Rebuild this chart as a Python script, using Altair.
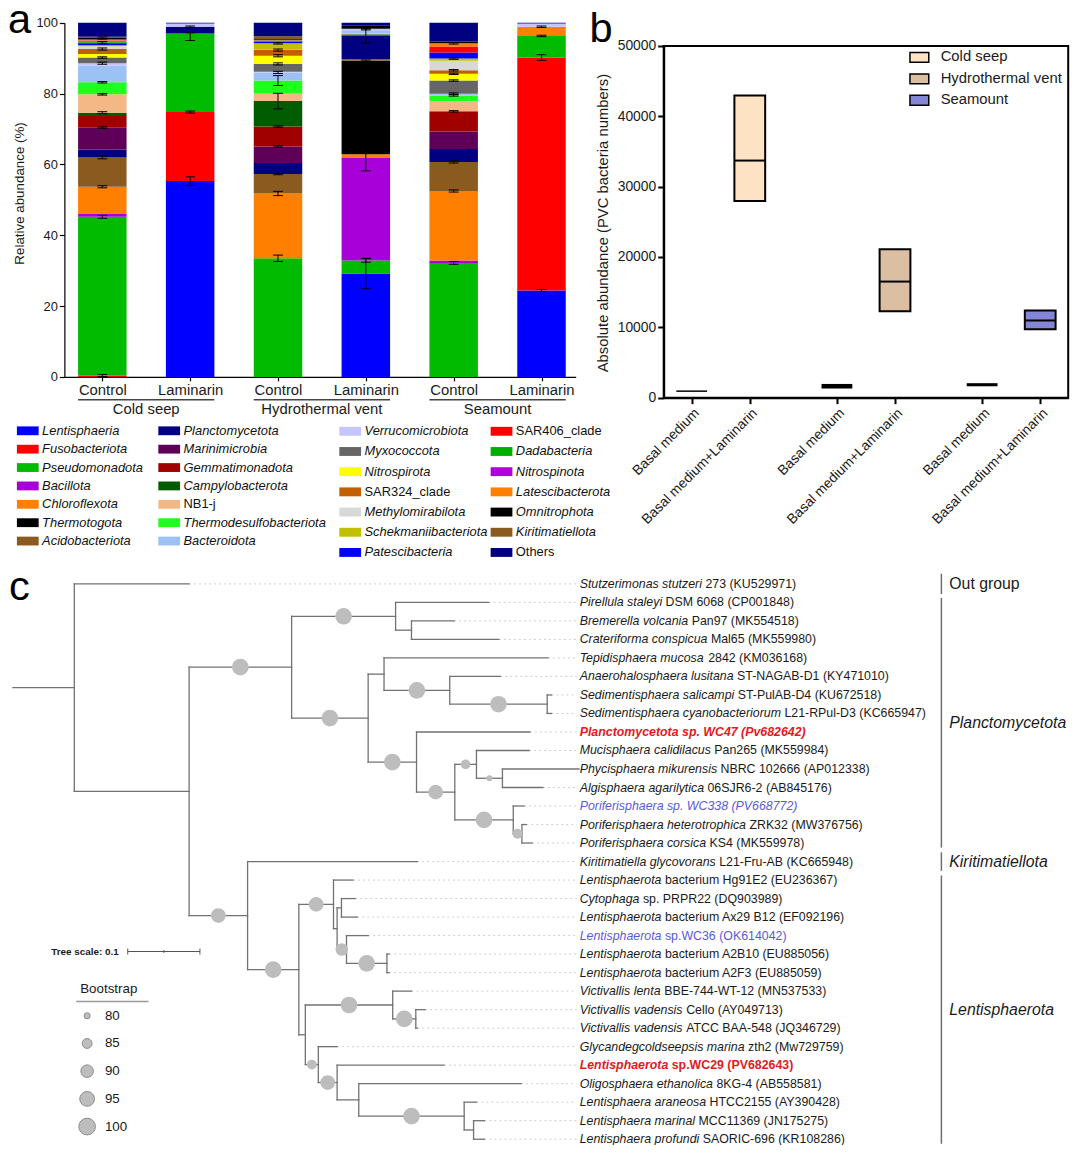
import altair as alt
import pandas as pd

FONT = "Liberation Sans"
W, H = 1064, 1137
# the reference figure runs to its very edges; it is mapped uniformly onto the drawable page area
S = 0.989
OX, OY = 3, 5


def px(v):
    """reference-page x pixel -> chart pixel"""
    return (v - OX) * S


def py(v):
    """reference-page y pixel -> chart pixel"""
    return (v - OY) * S


def fs(v):
    return round(v * S, 2)


def lin(domain, rng):
    return alt.Scale(domain=list(domain), range=list(rng), zero=False, nice=False)


# ======================= DATA: panel a =======================
a_bar_labels = ["Control", "Laminarin"]
a_groups = ["Cold seep", "Hydrothermal vent", "Seamount"]
taxa = ["Lentisphaeria", "Fusobacteriota", "Pseudomonadota", "Bacillota", "Chloroflexota", "Thermotogota",
        "Acidobacteriota", "Planctomycetota", "Marinimicrobia", "Gemmatimonadota", "Campylobacterota", "NB1-j",
        "Thermodesulfobacteriota", "Bacteroidota", "Verrucomicrobiota", "Myxococcota", "Nitrospirota",
        "SAR324_clade", "Methylomirabilota", "Schekmaniibacteriota", "Patescibacteria", "SAR406_clade",
        "Dadabacteria", "Nitrospinota", "Latescibacterota", "Omnitrophota", "Kiritimatiellota", "Others"]
taxa_colors = ["#0000ff", "#ff0000", "#00bb00", "#a800d8", "#ff8000", "#000000", "#8b5a1e",
               "#000080", "#5e0058", "#a00000", "#005c00", "#f4b886", "#1eff1e", "#9cc2f5",
               "#c4c4ff", "#666666", "#ffff00", "#c06000", "#d8d8d8", "#c0c000", "#0000ff",
               "#ff0000", "#00b000", "#b000e0", "#ff8000", "#000000", "#8b5a1e", "#000080"]
taxa_upright = ["NB1-j", "SAR324_clade", "SAR406_clade", "Others"]

# relative abundance (%) of each taxon, in the order of `taxa`
cs_control = [0, 0.4, 44.8, 0.8, 7.7, 0, 8.3, 2.2, 6.2, 3.3, 0.9, 5.2, 3.4, 4.7, 0.7, 1.6, 1.0, 1.4, 0.8,
              0.3, 0.3, 0.4, 0.3, 0.3, 0.3, 0.4, 0.4, 3.9]
cs_laminarin = [55.3, 19.5, 22.2, 0, 0, 0, 0, 1.9, 0, 0, 0, 0, 0, 0.1, 0.8, 0, 0, 0, 0,
                0, 0, 0, 0, 0, 0, 0, 0, 0.2]
hv_control = [0, 0, 33.5, 0, 18.3, 0, 5.5, 3.1, 4.7, 5.6, 7.2, 2.1, 3.7, 2.3, 0.2, 2.2, 2.3, 1.6, 0.1,
              1.8, 0.4, 0.2, 0.2, 0.1, 0.1, 0.2, 0.8, 3.8]
hv_laminarin = [29.2, 0, 3.7, 28.9, 1.1, 26.4, 0.4, 6.6, 0.1, 0.2, 0.2, 0.2, 0, 0.7, 0.6, 0, 0, 0, 0,
                0, 0, 0, 0, 0, 0, 0.9, 0, 0.8]
sm_control = [0, 0, 32.2, 0.7, 19.6, 0, 8.2, 3.7, 4.9, 5.7, 0, 2.9, 1.6, 0.5, 0, 3.7, 1.9, 1.0, 2.7,
              0.6, 1.7, 1.7, 0, 0, 0.9, 0.5, 0, 5.3]
sm_laminarin = [24.4, 65.8, 6.1, 0, 2.6, 0, 0, 0, 0, 0, 0, 0, 0, 0, 0.9, 0, 0, 0, 0,
                0, 0, 0, 0, 0, 0, 0, 0, 0.2]
a_values = [cs_control, cs_laminarin, hv_control, hv_laminarin, sm_control, sm_laminarin]

# error bars (bar index, mean = top of segment, sd)
err_bar = [0, 0, 0, 0, 0, 0, 0, 0, 0, 0, 0, 0, 0,
           1, 1, 1, 1,
           2, 2, 2, 2, 2, 2, 2, 2, 2, 2, 2, 2,
           3, 3, 3, 3, 3, 3,
           4, 4, 4, 4, 4, 4, 4, 4, 4, 4, 4,
           5, 5, 5, 5]
err_mean = [0.4, 45.2, 53.7, 62.0, 70.4, 74.6, 79.8, 83.2, 88.6, 90.2, 92.6, 94.4, 95.7,
            55.3, 74.8, 96.1, 98.9,
            33.5, 51.8, 57.3, 65.1, 70.7, 77.9, 83.7, 86.0, 88.4, 90.7, 92.3, 94.2,
            29.2, 32.9, 61.8, 89.3, 96.3, 98.3,
            32.2, 52.5, 60.7, 75.0, 79.5, 80.0, 83.7, 85.6, 86.6, 89.9, 94.2,
            24.4, 90.2, 96.3, 98.9]
err_sd = [0.3, 0.4, 0.3, 0.4, 0.2, 0.3, 0.2, 0.2, 0.3, 0.2, 0.3, 0.3, 0.3,
          1.2, 0.3, 1.1, 0.2,
          0.9, 0.6, 0.2, 0.2, 0.2, 2.2, 1.4, 0.3, 0.3, 0.3, 0.3, 0.2,
          4.3, 0.5, 3.6, 0.2, 2.0, 0.3,
          0.4, 0.3, 0.3, 0.2, 0.2, 0.2, 0.2, 0.2, 0.2, 0.2, 0.2,
          0.3, 0.8, 0.2, 0.2]

# ======================= DATA: panel b =======================
b_pos = [0, 2, 5, 7, 10, 12]
b_env = ["Cold seep", "Cold seep", "Hydrothermal vent", "Hydrothermal vent", "Seamount", "Seamount"]
b_laminarin = [False, True, False, True, False, True]
b_min = [820, 27970, 1300, 12280, 1620, 9720]
b_max = [1030, 42950, 1950, 21090, 2060, 12380]
b_mean = [930, 33700, 1620, 16500, 1840, 10970]
b_envs = ["Cold seep", "Hydrothermal vent", "Seamount"]
b_env_colors = ["#fde2c4", "#dbbfa3", "#8585d6"]

# ======================= DATA: panel c (tree) =======================
leaf_italic = ["Stutzerimonas stutzeri", "Pirellula staleyi", "Bremerella volcania", "Crateriforma conspicua",
               "Tepidisphaera mucosa", "Anaerohalosphaera lusitana", "Sedimentisphaera salicampi",
               "Sedimentisphaera cyanobacteriorum", "Planctomycetota sp. WC47 (Pv682642)",
               "Mucisphaera calidilacus", "Phycisphaera mikurensis", "Algisphaera agarilytica",
               "Poriferisphaera sp. WC338 (PV668772)", "Poriferisphaera heterotrophica", "Poriferisphaera corsica",
               "Kiritimatiella glycovorans", "Lentisphaerota", "Cytophaga", "Lentisphaerota", "Lentisphaerota",
               "Lentisphaerota", "Lentisphaerota", "Victivallis lenta", "Victivallis vadensis",
               "Victivallis vadensis", "Glycandegcoldseepsis marina", "Lentisphaerota", "Oligosphaera ethanolica",
               "Lentisphaera araneosa", "Lentisphaera marinal", "Lentisphaera profundi"]
leaf_plain = ["273 (KU529971)", "DSM 6068 (CP001848)", "Pan97 (MK554518)", "Mal65 (MK559980)",
              "2842 (KM036168)", "ST-NAGAB-D1 (KY471010)", "ST-PulAB-D4 (KU672518)",
              "L21-RPul-D3 (KC665947)", "",
              "Pan265 (MK559984)", "NBRC 102666 (AP012338)", "06SJR6-2 (AB845176)",
              "", "ZRK32 (MW376756)", "KS4 (MK559978)",
              "L21-Fru-AB (KC665948)", "bacterium Hg91E2 (EU236367)", "sp. PRPR22 (DQ903989)",
              "bacterium Ax29 B12 (EF092196)", "sp.WC36 (OK614042)",
              "bacterium A2B10 (EU885056)", "bacterium A2F3 (EU885059)", "BBE-744-WT-12 (MN537533)",
              "Cello (AY049713)", "ATCC BAA-548 (JQ346729)", "zth2 (Mw729759)", "sp.WC29 (PV682643)",
              "8KG-4 (AB558581)", "HTCC2155 (AY390428)", "MCC11369 (JN175275)", "SAORIC-696 (KR108286)"]
leaf_red = [8, 26]
leaf_blue = [12, 19]
leaf_depth = [0.244, 0.659, 0.611, 0.673, 0.741, 0.675, 0.746, 0.746, 0.716, 0.715, 0.784, 0.734, 0.708,
              0.711, 0.719, 0.560, 0.471, 0.474, 0.477, 0.492, 0.521, 0.521, 0.552, 0.571, 0.560, 0.449,
              0.597, 0.704, 0.642, 0.653, 0.653]

tree_nodes = ["root", "in", "pl", "A", "A2", "B", "B1", "B1b", "B1c", "B2", "B2b", "B2b1", "B2b1b", "B2b2",
              "P", "kl", "L", "L1", "N2", "N3", "N4", "N5", "N6", "V", "Vv", "N7", "N8", "N9", "N10", "N11"]
tree_children = [["0", "in"], ["pl", "kl"], ["A", "B"], ["1", "A2"], ["2", "3"], ["B1", "B2"], ["4", "B1b"],
                 ["5", "B1c"], ["6", "7"], ["8", "B2b"], ["B2b1", "B2b2"], ["9", "B2b1b"], ["10", "11"],
                 ["12", "P"], ["13", "14"], ["15", "L"], ["L1", "N6"], ["16", "N2"], ["N3", "N4"],
                 ["17", "18"], ["19", "N5"], ["20", "21"], ["V", "N7"], ["22", "Vv"], ["23", "24"],
                 ["25", "N8"], ["26", "N9"], ["27", "N10"], ["28", "N11"], ["29", "30"]]
tree_depth = [0.085, 0.244, 0.386, 0.530, 0.552, 0.492, 0.514, 0.605, 0.740, 0.559, 0.612, 0.642, 0.678,
              0.693, 0.705, 0.325, 0.396, 0.444, 0.449, 0.455, 0.462, 0.518, 0.405, 0.526, 0.558, 0.423,
              0.449, 0.479, 0.625, 0.638]
tree_boot = [0, 0, 100, 100, 0, 100, 0, 100, 100, 100, 95, 85, 80, 100, 85,
             95, 100, 95, 0, 0, 90, 100, 0, 100, 100, 85, 95, 0, 100, 0]

clade_names = ["Out group", "Planctomycetota", "Kiritimatiellota", "Lentisphaerota"]
clade_first = [0, 1, 15, 16]
clade_last = [0, 14, 15, 30]
boot_legend = [80, 85, 90, 95, 100]
tree_scale_len = 0.1

# ======================= helpers =======================
REG_W = dict(zip("abcdefghijklmnopqrstuvwxyz",
                 [556, 556, 500, 556, 556, 278, 556, 556, 222, 222, 500, 222, 833, 556, 556, 556, 556, 333,
                  500, 278, 556, 500, 722, 500, 500, 500]))
REG_W.update(zip("ABCDEFGHIJKLMNOPQRSTUVWXYZ",
                 [667, 667, 722, 722, 667, 611, 778, 722, 278, 500, 667, 556, 833, 722, 778, 667, 778, 722,
                  667, 611, 722, 667, 944, 667, 667, 611]))
BOLD_W = dict(zip("abcdefghijklmnopqrstuvwxyz",
                  [556, 611, 556, 611, 556, 333, 611, 611, 278, 278, 556, 278, 889, 611, 611, 611, 611, 389,
                   556, 333, 611, 556, 778, 556, 556, 500]))
BOLD_W.update(zip("ABCDEFGHIJKLMNOPQRSTUVWXYZ",
                  [722, 722, 722, 722, 667, 611, 778, 722, 278, 556, 722, 611, 833, 722, 778, 667, 778, 722,
                   667, 611, 722, 667, 944, 667, 667, 611]))
for tbl in (REG_W, BOLD_W):
    tbl.update({" ": 278, "(": 333, ")": 333, "-": 333, ".": 278, "+": 584, "_": 556})
    tbl.update({d: 556 for d in "0123456789"})


def text_width(s, size, bold=False):
    tbl = BOLD_W if bold else REG_W
    return sum(tbl.get(ch, 556) for ch in s) * size / 1000.0


AX = dict(grid=False, domainColor="black", tickColor="black", labelColor="#1a1a1a", labelFont=FONT,
          titleFont=FONT, titleColor="#1a1a1a", titleFontWeight="normal", labelOverlap=False, labelFlush=False)

layers = []

# ======================= panel a =======================
A_LEFT = 60
xa = lin([-0.432, 5.389], [px(A_LEFT), px(577)])
ya = lin([0, 100], [py(378), py(20)])
HALF = 0.276

rows = []
for b, vals in enumerate(a_values):
    assert len(vals) == len(taxa)
    cum = 0.0
    for t, v in enumerate(vals):
        if v > 0:
            rows.append(dict(x0=b - HALF, x1=b + HALF, y0=cum, y1=cum + v, color=taxa_colors[t], taxon=taxa[t]))
        cum += v
df_a = pd.DataFrame(rows)

axis_a_x = alt.Axis(orient="bottom", offset=py(378) - H, values=list(range(6)),
                    labelExpr="datum.value % 2 == 0 ? 'Control' : 'Laminarin'", tickSize=4, tickWidth=1.2,
                    domainWidth=1.2, labelFontSize=fs(15), labelPadding=2, labelAngle=0, title=None, **AX)
axis_a_y = alt.Axis(orient="left", offset=-px(A_LEFT), values=[0, 20, 40, 60, 80, 100], tickSize=5,
                    tickWidth=1.2, domainWidth=1.2, labelFontSize=fs(13), labelPadding=2,
                    title="Relative abundance (%)",
                    titleFontSize=fs(13.5), titleX=px(15) - px(A_LEFT), titleY=py(192), titleAngle=270,
                    titleAlign="center", titleBaseline="middle", **AX)

layers.append(alt.Chart(df_a).mark_rect().encode(
    x=alt.X("x0:Q", scale=xa, axis=axis_a_x), x2="x1:Q",
    y=alt.Y("y0:Q", scale=ya, axis=axis_a_y), y2="y1:Q",
    color=alt.Color("color:N", scale=None)))

erows = []
for b, m, s in zip(err_bar, err_mean, err_sd):
    erows.append(dict(x0=b, x1=b, y0=m - s, y1=m + s))
    erows.append(dict(x0=b - 0.056, x1=b + 0.056, y0=m - s, y1=m - s))
    erows.append(dict(x0=b - 0.056, x1=b + 0.056, y0=m + s, y1=m + s))
layers.append(alt.Chart(pd.DataFrame(erows)).mark_rule(color="black", strokeWidth=1).encode(
    x=alt.X("x0:Q", scale=xa, axis=None), x2="x1:Q",
    y=alt.Y("y0:Q", scale=ya, axis=None), y2="y1:Q"))

df_grp = pd.DataFrame({"g": a_groups,
                       "x0": [2 * i - HALF for i in range(3)],
                       "x1": [2 * i + 1 + HALF for i in range(3)],
                       "xc": [2 * i + 0.5 for i in range(3)]})
layers.append(alt.Chart(df_grp).mark_rule(color="#444444", strokeWidth=1.5).encode(
    x=alt.X("x0:Q", scale=xa, axis=None), x2="x1:Q", y=alt.value(py(401))))
layers.append(alt.Chart(df_grp).mark_text(font=FONT, fontSize=fs(15), align="center", baseline="middle",
                                          color="#1a1a1a").encode(
    x=alt.X("xc:Q", scale=xa, axis=None), y=alt.value(py(411.5)), text="g:N"))

# legend of panel a (4 columns of 7)
leg = pd.DataFrame({"taxon": taxa, "color": taxa_colors,
                    "col": [i // 7 for i in range(len(taxa))], "row": [i % 7 for i in range(len(taxa))],
                    "upright": [t in taxa_upright for t in taxa]})


def legend_layers(sub, xs, ys, sw_w, sw_h):
    sub = sub.assign(x0=sub["col"], x1=sub["col"] + sw_w, y0=sub["row"] - sw_h, y1=sub["row"] + sw_h)
    out = [alt.Chart(sub).mark_rect().encode(
        x=alt.X("x0:Q", scale=xs, axis=None), x2="x1:Q",
        y=alt.Y("y0:Q", scale=ys, axis=None), y2="y1:Q",
        color=alt.Color("color:N", scale=None))]
    for upright, style in [(False, "italic"), (True, "normal")]:
        part = sub[sub["upright"] == upright]
        if len(part):
            out.append(alt.Chart(part).mark_text(align="left", baseline="middle", dx=25.5 * S, font=FONT,
                                                 fontSize=fs(13), fontStyle=style, color="#111111").encode(
                x=alt.X("x0:Q", scale=xs, axis=None), y=alt.Y("row:Q", scale=ys, axis=None),
                text="taxon:N"))
    return out


layers += legend_layers(leg[leg["col"] < 2], lin([0, 1], [px(12), px(155)]),
                        lin([0, 6], [py(432.5), py(544)]), 22 / 143, 0.24)
layers += legend_layers(leg[leg["col"] >= 2], lin([2, 3], [px(338), px(491)]),
                        lin([0, 6], [py(433), py(555.5)]), 22 / 153, 0.22)

# ======================= panel b =======================
b_xdom = [-0.964, 12.964]
b_ydom = [0, 50000]
xb = lin(b_xdom, [px(666), px(1075)])
yb = lin(b_ydom, [py(399), py(43.3)])
BH = 0.53

axis_b_x = alt.Axis(orient="bottom", offset=py(399) - H, values=b_pos,
                    labelExpr="datum.value % 5 == 0 ? 'Basal medium' : 'Basal medium+Laminarin'",
                    labelAngle=315, labelAlign="right", labelBaseline="top", tickSize=6, tickWidth=2,
                    domainWidth=2, labelFontSize=fs(14), labelPadding=2, title=None, **AX)
axis_b_y = alt.Axis(orient="left", offset=-px(666), values=list(range(0, 50001, 10000)), format="d",
                    tickSize=6, tickWidth=2, domainWidth=2, labelFontSize=fs(14), labelPadding=2,
                    title="Absolute abundance (PVC bacteria numbers)", titleFontSize=fs(15),
                    titleX=px(605) - px(666), titleY=py(222), titleAngle=270, titleAlign="center",
                    titleBaseline="middle", **AX)

df_frame = pd.DataFrame({"x0": [b_xdom[0]], "x1": [b_xdom[1]], "y0": [b_ydom[0]], "y1": [b_ydom[1]]})
layers.append(alt.Chart(df_frame).mark_rect(fillOpacity=0, stroke="black", strokeWidth=2).encode(
    x=alt.X("x0:Q", scale=xb, axis=axis_b_x), x2="x1:Q",
    y=alt.Y("y0:Q", scale=yb, axis=axis_b_y), y2="y1:Q"))

env_color = dict(zip(b_envs, b_env_colors))
df_b = pd.DataFrame({"pos": b_pos, "env": b_env, "lam": b_laminarin, "lo": b_min, "hi": b_max,
                     "mean": b_mean})
df_b["x0"] = df_b["pos"] - BH
df_b["x1"] = df_b["pos"] + BH
df_b["color"] = [env_color[e] for e in df_b["env"]]

layers.append(alt.Chart(df_b[~df_b["lam"]]).mark_rect(color="black").encode(
    x=alt.X("x0:Q", scale=xb, axis=None), x2="x1:Q",
    y=alt.Y("lo:Q", scale=yb, axis=None), y2="hi:Q"))
layers.append(alt.Chart(df_b[df_b["lam"]]).mark_rect(stroke="black", strokeWidth=2).encode(
    x=alt.X("x0:Q", scale=xb, axis=None), x2="x1:Q",
    y=alt.Y("lo:Q", scale=yb, axis=None), y2="hi:Q",
    fill=alt.Fill("color:N", scale=None)))
layers.append(alt.Chart(df_b[df_b["lam"]]).mark_rule(color="black", strokeWidth=2).encode(
    x=alt.X("x0:Q", scale=xb, axis=None), x2="x1:Q",
    y=alt.Y("mean:Q", scale=yb, axis=None)))

df_bleg = pd.DataFrame({"env": b_envs, "color": b_env_colors, "row": [0, 1, 2]})
df_bleg["y0"] = df_bleg["row"] - 0.23
df_bleg["y1"] = df_bleg["row"] + 0.23
yleg_b = lin([0, 2], [py(55), py(98.3)])
layers.append(alt.Chart(df_bleg).mark_rect(stroke="black", strokeWidth=1.5).encode(
    x=alt.value(px(915)), x2=alt.value(px(934)),
    y=alt.Y("y0:Q", scale=yleg_b, axis=None), y2="y1:Q",
    fill=alt.Fill("color:N", scale=None)))
layers.append(alt.Chart(df_bleg).mark_text(align="left", baseline="middle", font=FONT, fontSize=fs(15),
                                           color="#1a1a1a").encode(
    x=alt.value(px(946)), y=alt.Y("row:Q", scale=yleg_b, axis=None), text="env:N"))

# ======================= panel c (tree) =======================
PX_PER_UNIT = 730.0
xt = lin([0, 1.4], [px(8), px(8 + 1.4 * PX_PER_UNIT)])
yt = lin([0, 30], [py(587.3), py(1148.8)])
LABEL_X = 0.785
GUIDE_END = 0.781

depth_of = {str(i): d for i, d in enumerate(leaf_depth)}
depth_of.update(dict(zip(tree_nodes, tree_depth)))
kids = dict(zip(tree_nodes, tree_children))
parent = {c: n for n, ch in kids.items() for c in ch}
ypos = {}


def y_of(k):
    if k not in ypos:
        ypos[k] = (y_of(kids[k][0]) + y_of(kids[k][-1])) / 2 if k in kids else float(k)
    return ypos[k]


y_of("root")
segs = [dict(x0=0.0, x1=depth_of["root"], y0=ypos["root"], y1=ypos["root"])]
for n in tree_nodes:
    ch = kids[n]
    segs.append(dict(x0=depth_of[n], x1=depth_of[n], y0=ypos[ch[0]], y1=ypos[ch[-1]]))
    for c in ch:
        segs.append(dict(x0=depth_of[n], x1=depth_of[c], y0=ypos[c], y1=ypos[c]))
df_segs = pd.DataFrame(segs)

guides = [dict(x0=d, x1=GUIDE_END, y=i) for i, d in enumerate(leaf_depth) if d < GUIDE_END]
layers.append(alt.Chart(pd.DataFrame(guides)).mark_rule(color="#cfcfcf", strokeWidth=1,
                                                        strokeDash=[2, 3]).encode(
    x=alt.X("x0:Q", scale=xt, axis=None), x2="x1:Q", y=alt.Y("y:Q", scale=yt, axis=None)))
layers.append(alt.Chart(df_segs).mark_rule(color="#727272", strokeWidth=1.3, strokeCap="square").encode(
    x=alt.X("x0:Q", scale=xt, axis=None), x2="x1:Q",
    y=alt.Y("y0:Q", scale=yt, axis=None), y2="y1:Q"))

size_scale = alt.Scale(domain=[80, 100], range=[38 * S * S, 284 * S * S])
circ = [dict(x=(depth_of[parent[n]] + depth_of[n]) / 2, y=ypos[n], boot=b)
        for n, b in zip(tree_nodes, tree_boot) if b > 0]
layers.append(alt.Chart(pd.DataFrame(circ)).mark_circle(color="#bdbdbd", opacity=1).encode(
    x=alt.X("x:Q", scale=xt, axis=None), y=alt.Y("y:Q", scale=yt, axis=None),
    size=alt.Size("boot:Q", scale=size_scale, legend=None)))

# leaf labels: italic species name + upright strain part
LABEL_SIZE = 12.5
lab = []
for i in range(len(leaf_italic)):
    color = "#e31a1c" if i in leaf_red else ("#5a5ad6" if i in leaf_blue else "#1a1a1a")
    bold = i in leaf_red
    lab.append(dict(x=LABEL_X, y=i, text=leaf_italic[i], color=color, italic=True, bold=bold))
    if leaf_plain[i]:
        off = text_width(leaf_italic[i] + " ", LABEL_SIZE, bold) / PX_PER_UNIT
        lab.append(dict(x=LABEL_X + off, y=i, text=leaf_plain[i], color=color, italic=False, bold=bold))
df_lab = pd.DataFrame(lab)
for italic in (True, False):
    for bold in (False, True):
        part = df_lab[(df_lab["italic"] == italic) & (df_lab["bold"] == bold)]
        if len(part):
            layers.append(alt.Chart(part).mark_text(
                align="left", baseline="middle", font=FONT, fontSize=fs(LABEL_SIZE),
                fontStyle="italic" if italic else "normal",
                fontWeight="bold" if bold else "normal").encode(
                x=alt.X("x:Q", scale=xt, axis=None), y=alt.Y("y:Q", scale=yt, axis=None),
                text="text:N", color=alt.Color("color:N", scale=None)))

# clade brackets
CLADE_X = 1.286
pads = [0.55 if f == l else 0.25 for f, l in zip(clade_first, clade_last)]
pads[2] = 0.5
df_cl = pd.DataFrame({"name": clade_names, "y0": [f - p for f, p in zip(clade_first, pads)],
                      "y1": [l + p for l, p in zip(clade_last, pads)],
                      "yc": [(f + l) / 2 for f, l in zip(clade_first, clade_last)],
                      "italic": [n != "Out group" for n in clade_names]})
df_cl["x"] = CLADE_X
df_cl["xt"] = CLADE_X + 8 / PX_PER_UNIT
layers.append(alt.Chart(df_cl).mark_rule(color="#6f6f6f", strokeWidth=1.5).encode(
    x=alt.X("x:Q", scale=xt, axis=None), y=alt.Y("y0:Q", scale=yt, axis=None), y2="y1:Q"))
for italic in (True, False):
    layers.append(alt.Chart(df_cl[df_cl["italic"] == italic]).mark_text(
        align="left", baseline="middle", font=FONT, fontSize=fs(16), color="#1a1a1a",
        fontStyle="italic" if italic else "normal").encode(
        x=alt.X("xt:Q", scale=xt, axis=None), y=alt.Y("yc:Q", scale=yt, axis=None), text="name:N"))

# tree scale bar
SB0 = 0.159
df_sb = pd.DataFrame({"x0": [SB0], "x1": [SB0 + tree_scale_len]})
layers.append(alt.Chart(df_sb).mark_rule(color="#555555", strokeWidth=1).encode(
    x=alt.X("x0:Q", scale=xt, axis=None), x2="x1:Q", y=alt.value(py(959))))
layers.append(alt.Chart(pd.DataFrame({"x": [SB0, SB0 + tree_scale_len]})).mark_rule(
    color="#555555", strokeWidth=1).encode(
    x=alt.X("x:Q", scale=xt, axis=None), y=alt.value(py(956)), y2=alt.value(py(962))))
layers.append(alt.Chart(pd.DataFrame({"x": [SB0 + tree_scale_len / 2]})).mark_rule(
    color="#555555", strokeWidth=1).encode(
    x=alt.X("x:Q", scale=xt, axis=None), y=alt.value(py(957.5)), y2=alt.value(py(960.5))))
layers.append(alt.Chart(pd.DataFrame({"t": ["Tree scale: %g" % tree_scale_len]})).mark_text(
    align="right", baseline="middle", font=FONT, fontSize=fs(10), fontWeight="bold", color="#1a1a1a").encode(
    x=alt.value(px(115)), y=alt.value(py(959)), text="t:N"))

# bootstrap legend
df_bl = pd.DataFrame({"boot": boot_legend, "i": list(range(len(boot_legend)))})
ybl = lin([0, 4], [py(1024), py(1136)])
layers.append(alt.Chart(pd.DataFrame({"t": ["Bootstrap"]})).mark_text(
    align="left", baseline="middle", font=FONT, fontSize=fs(13.5), color="#1a1a1a").encode(
    x=alt.value(px(76)), y=alt.value(py(997)), text="t:N"))
layers.append(alt.Chart(pd.DataFrame({"t": ["Bootstrap"]})).mark_rule(color="#999999", strokeWidth=1.5).encode(
    x=alt.value(px(72)), x2=alt.value(px(145)), y=alt.value(py(1009.5))))
layers.append(alt.Chart(df_bl).mark_circle(color="#bdbdbd", opacity=1, stroke="#8c8c8c", strokeWidth=1).encode(
    x=alt.value(px(83)), y=alt.Y("i:Q", scale=ybl, axis=None),
    size=alt.Size("boot:Q", scale=size_scale, legend=None)))
layers.append(alt.Chart(df_bl).mark_text(align="left", baseline="middle", font=FONT, fontSize=fs(13.5),
                                         color="#1a1a1a").encode(
    x=alt.value(px(101)), y=alt.Y("i:Q", scale=ybl, axis=None), text="boot:N"))

# ======================= panel letters =======================
for letter, lx, ly in [("a", 3, 30), ("b", 591, 39), ("c", 4, 604)]:
    layers.append(alt.Chart(pd.DataFrame({"t": [letter]})).mark_text(
        align="left", baseline="alphabetic", font=FONT, fontSize=fs(42), color="black").encode(
        x=alt.value(px(lx)), y=alt.value(py(ly)), text="t:N"))

chart = alt.layer(*layers).resolve_scale(
    x="independent", y="independent", size="shared"
).resolve_axis(x="independent", y="independent").properties(
    width=W, height=H, padding=0, autosize=alt.AutoSizeParams(type="none"), background="white"
).configure_view(stroke="transparent")

chart.save("out.html", embed_options={"renderer": "svg", "actions": False})
